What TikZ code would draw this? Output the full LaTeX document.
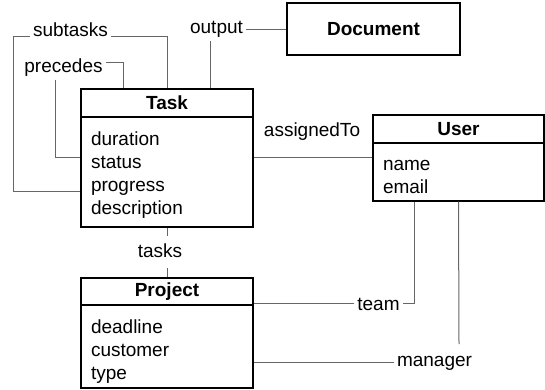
\documentclass[tikz,border=0pt]{standalone}
\usepackage{fontspec}
\setmainfont{Liberation Sans}
\usetikzlibrary{calc}
\newcommand{\toppad}[1]{\rule{0pt}{#1}}
\begin{document}
\begin{tikzpicture}[x=1pt,y=-1pt,
  every node/.style={font=\fontsize{19}{23}\selectfont, inner sep=3pt},
  hdr/.style={draw=black, line width=1.2pt, minimum width=172pt, font=\fontsize{19}{23}\selectfont\bfseries, inner sep=0pt},
  body/.style={draw=black, line width=1.2pt, minimum width=172pt, text width=152pt, align=left, inner sep=0pt},
  conn/.style={draw=black!60, line width=1pt},
  lbl/.style={anchor=base}]
\useasboundingbox (0,0) rectangle (545,390);
% Task
\node[hdr, minimum height=28pt] (taskh) at (167,103) {Task};
\node[body, minimum height=110pt] (taskb) at (167,172) {\toppad{20pt}duration\\status\\progress\\description};
% User
\node[hdr, minimum width=171pt, minimum height=28pt] (userh) at (458.5,129) {User};
\node[body, minimum width=171pt, text width=151pt, minimum height=58pt] (userb) at (458.5,172) {\toppad{20pt}name\\email};
% Project
\node[hdr, minimum height=27pt] (projh) at (167,291.5) {Project};
\node[body, minimum height=83pt] (projb) at (167,346.5) {\toppad{23pt}deadline\\customer\\type};
% Document
\node[hdr, minimum width=173pt, minimum height=52pt] (doc) at (373.5,29) {Document};
% labels
\node[lbl] (subl) at (70.5,37) {subtasks};
\node[lbl] (precl) at (63.5,73) {precedes};
\node[lbl] (outl) at (216.5,34) {output};
\node[lbl] (asgl) at (312,137) {assignedTo};
\node[lbl] (tkl) at (160,257) {tasks};
\node[lbl] (teaml) at (378.5,310) {team};
\node[lbl] (manl) at (434.5,366) {manager};
% coordinates
\coordinate (t25) at ($(taskh.north west)!0.25!(taskh.north east)$);
\coordinate (t75) at ($(taskh.north west)!0.75!(taskh.north east)$);
\coordinate (s1) at (13,37);
\coordinate (s2) at (13,191);
\coordinate (p1) at (106,63);
\coordinate (p2) at (55,80);
\coordinate (p3) at (55,157);
\coordinate (tk1) at (167,236);
\coordinate (tk2) at (167,268);
\coordinate (u25) at ($(userb.south west)!0.245!(userb.south east)$);
\coordinate (m1) at (459,344);
% connectors
\draw[conn] (subl.base west) -- (s1) -- (s2) -- (s2 -| taskb.west);
\draw[conn] (subl.base east) -| (taskh.north);
\draw[conn] (p1) -| (t25);
\draw[conn] (p2) -- (p3) -- (p3 -| taskb.west);
\draw[conn] (outl.south -| t75) -- (t75);
\draw[conn] (outl.east) -- (outl.east -| doc.west);
\draw[conn] ([yshift=15pt]taskb.east) -- ([yshift=15pt]userb.west);
\draw[conn] (taskb.south) -- (tk1);
\draw[conn] (tk2) -- (projh.north);
\draw[conn] (teaml.west) -- (teaml.west -| projb.east);
\draw[conn] (teaml.east) -| (u25);
\draw[conn] (manl.west) -- (manl.west -| projb.east);
\draw[conn] (userb.south) -- (m1);
\end{tikzpicture}
\end{document}
